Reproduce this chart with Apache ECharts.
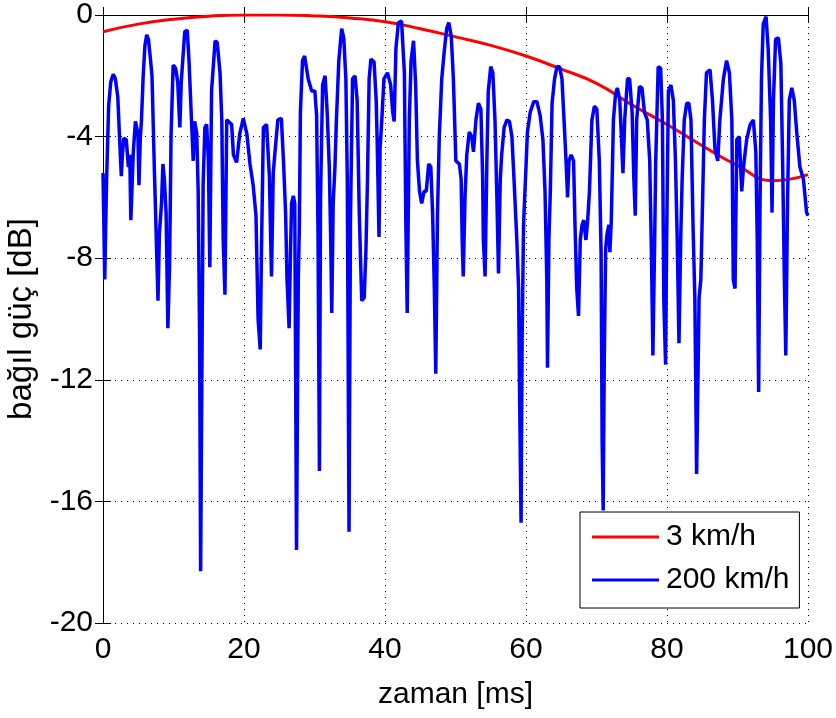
<!DOCTYPE html>
<html>
<head>
<meta charset="utf-8">
<script src="https://cdn.jsdelivr.net/npm/echarts@6/dist/echarts.min.js"></script>
<style>
  html, body { margin: 0; padding: 0; background: #fff; }
  #chart { width: 836px; height: 718px; }
</style>
</head>
<body>
<div id="chart"></div>
<script>
// red: 3 km/h (slow fading)
const redTime = [0, 5, 10, 15, 20, 25, 30, 35, 40, 45, 50, 55, 60, 65, 70, 75, 80, 85, 90, 95, 100];
const redGain = [-0.55, -0.3, -0.14, -0.04, 0, 0, -0.03, -0.1, -0.22, -0.45, -0.72, -1.0, -1.35, -1.78, -2.25, -2.95, -3.6, -4.3, -4.95, -5.45, -5.25];

// blue: 200 km/h (fast fading)
const blueTime = [
  0, 0.25, 0.5, 0.8, 1.1, 1.45, 1.75, 2.1, 2.4, 2.6, 2.75, 2.95, 3.3, 3.6, 3.8, 3.95, 4.1, 4.3, 4.6, 4.95,
  5.1, 5.3, 5.45, 5.7, 5.95, 6.2, 6.45, 6.75, 6.95, 7.3, 7.4, 7.6, 7.8, 8.0, 8.3, 8.5, 8.7, 8.95, 9.2, 9.45,
  9.65, 9.95, 10.3, 10.6, 10.9, 11.1, 11.6, 11.95, 12.2, 12.55, 12.8, 13.0, 13.3, 13.5, 13.7, 13.85, 14.05, 14.2, 14.45, 14.7,
  14.95, 15.15, 15.4, 15.9, 16.2, 16.6, 16.85, 17.05, 17.3, 17.55, 17.8, 18.25, 18.5, 18.95, 19.4, 19.9, 20.4, 20.85, 21.3, 21.7,
  22.0, 22.3, 22.5, 22.75, 23.2, 23.6, 23.9, 24.15, 24.4, 24.8, 25.3, 25.6, 25.9, 26.1, 26.4, 26.6, 26.75, 27.0, 27.2, 27.45,
  27.7, 27.85, 28.0, 28.3, 28.6, 29.1, 29.6, 30.05, 30.3, 30.5, 30.7, 30.85, 31.15, 31.5, 31.8, 32.1, 32.3, 32.45, 32.65, 32.9,
  33.1, 33.45, 33.85, 34.15, 34.45, 34.65, 34.9, 35.1, 35.4, 35.75, 36.05, 36.35, 36.7, 37.05, 37.3, 37.5, 37.75, 38.0, 38.45, 38.75,
  38.9, 39.15, 39.3, 39.55, 39.85, 40.35, 40.8, 41.1, 41.3, 41.55, 41.9, 42.35, 42.75, 42.95, 43.15, 43.45, 43.7, 44.05, 44.35, 44.6,
  44.9, 45.2, 45.55, 45.85, 46.2, 46.5, 46.75, 47.0, 47.2, 47.45, 47.7, 48.05, 48.4, 48.75, 49.05, 49.4, 49.7, 50.05, 50.55, 50.8,
  50.95, 51.1, 51.35, 51.6, 51.95, 52.3, 52.55, 52.9, 53.25, 53.6, 53.85, 53.95, 54.2, 54.45, 54.65, 55.0, 55.3, 55.6, 55.85, 56.1,
  56.35, 56.55, 56.9, 57.3, 57.65, 58.0, 58.3, 58.7, 58.95, 59.1, 59.3, 59.45, 59.65, 60.0, 60.2, 60.6, 61.1, 61.55, 62.0, 62.4,
  62.7, 62.95, 63.05, 63.25, 63.45, 63.7, 64.05, 64.4, 64.75, 65.1, 65.45, 65.7, 65.9, 66.1, 66.4, 66.75, 66.95, 67.2, 67.45, 67.7,
  67.95, 68.2, 68.5, 68.75, 69.0, 69.35, 69.7, 70.05, 70.4, 70.65, 70.8, 70.95, 71.1, 71.3, 71.5, 71.75, 71.9, 72.1, 72.4, 72.7,
  72.95, 73.3, 73.5, 73.75, 74.0, 74.4, 74.7, 75.05, 75.3, 75.5, 75.7, 76.1, 76.45, 76.8, 77.2, 77.55, 77.8, 78.0, 78.25, 78.4,
  78.75, 79.1, 79.35, 79.55, 79.8, 79.95, 80.2, 80.55, 80.9, 81.2, 81.45, 81.7, 81.95, 82.15, 82.45, 82.8, 83.1, 83.4, 83.7, 83.95,
  84.2, 84.35, 84.55, 84.8, 85.05, 85.3, 85.6, 86.1, 86.45, 86.8, 87.2, 87.5, 88.0, 88.45, 88.85, 89.2, 89.4, 89.65, 89.9, 90.25,
  90.6, 90.85, 91.3, 91.8, 92.25, 92.6, 92.8, 93.0, 93.2, 93.4, 93.65, 94.05, 94.35, 94.7, 94.9, 95.1, 95.4, 95.8, 96.15, 96.4,
  96.65, 96.85, 97.1, 97.35, 97.7, 98.05, 98.4, 98.85, 99.35, 99.8, 100
];
const blueGain = [
  -5.2, -8.7, -5.5, -3.0, -2.2, -1.95, -2.1, -2.7, -4.3, -5.3, -4.6, -4.05, -4.1, -5.0, -4.6, -6.75, -6.8, -4.5, -3.5, -3.9,
  -5.6, -4.0, -3.5, -2.0, -1.0, -0.65, -0.8, -1.5, -2.0, -5.2, -6.0, -7.7, -9.4, -7.2, -6.2, -4.9, -5.4, -6.5, -10.3, -8.2,
  -4.0, -1.65, -1.75, -2.2, -3.7, -2.2, -0.55, -0.5, -1.5, -3.45, -4.8, -3.5, -3.9, -5.8, -10.5, -18.3, -11.0, -5.6, -3.7, -3.6,
  -4.8, -8.3, -2.5, -0.85, -0.9, -1.9, -3.45, -7.4, -9.2, -3.45, -3.4, -3.6, -4.6, -4.85, -3.9, -3.4, -3.9, -4.9, -5.6, -6.6,
  -10.0, -11.0, -7.4, -3.7, -3.6, -5.3, -8.6, -5.2, -4.5, -3.45, -3.4, -4.8, -6.5, -8.7, -10.3, -7.7, -6.2, -5.95, -6.2, -17.6,
  -8.7, -7.0, -3.2, -1.5, -1.35, -2.1, -2.5, -2.5, -3.3, -7.2, -15.0, -6.1, -2.3, -2.0, -3.2, -5.0, -7.4, -9.8, -6.2, -5.0,
  -3.5, -1.5, -0.45, -0.75, -2.1, -5.4, -17.0, -6.75, -2.1, -2.0, -2.8, -6.5, -9.4, -9.3, -7.7, -5.6, -2.1, -1.45, -1.55, -2.8,
  -4.25, -7.3, -4.4, -3.45, -2.1, -1.9, -2.3, -3.2, -3.5, -1.1, -0.25, -0.2, -1.9, -6.75, -9.8, -3.45, -1.5, -0.85, -2.3, -4.8,
  -5.8, -6.2, -5.8, -5.8, -4.9, -5.0, -6.5, -9.0, -11.8, -6.5, -4.0, -2.1, -1.2, -0.45, -0.25, -0.7, -2.1, -4.8, -4.9, -5.4,
  -7.4, -8.6, -6.0, -4.6, -3.85, -4.0, -4.5, -3.45, -2.9, -3.1, -5.3, -7.4, -8.6, -4.8, -2.5, -1.7, -1.9, -3.45, -5.8, -8.5,
  -5.4, -4.6, -3.7, -3.45, -3.5, -4.0, -5.4, -7.4, -9.0, -12.7, -16.7, -10.7, -6.9, -5.0, -3.85, -3.2, -2.85, -2.85, -3.3, -4.1,
  -5.8, -8.7, -11.6, -7.4, -5.8, -2.9, -2.1, -1.7, -1.7, -2.1, -3.7, -4.9, -6.0, -4.8, -4.6, -4.8, -6.9, -9.0, -9.9, -7.4,
  -6.9, -6.75, -7.4, -6.75, -5.8, -3.45, -3.0, -3.1, -4.8, -7.8, -14.0, -16.3, -11.4, -7.7, -7.2, -6.9, -7.8, -6.75, -3.45, -2.6,
  -2.4, -2.8, -3.85, -5.2, -3.45, -2.1, -2.1, -3.2, -5.4, -6.6, -3.45, -2.35, -2.4, -3.2, -3.45, -4.8, -7.95, -11.2, -7.4, -4.8,
  -1.7, -1.75, -3.45, -9.4, -11.5, -7.4, -2.5, -2.3, -2.8, -4.8, -7.4, -10.8, -7.3, -5.4, -3.45, -2.9, -2.9, -3.45, -7.0, -9.3,
  -15.1, -12.7, -9.3, -8.7, -6.1, -3.45, -1.9, -1.8, -2.8, -4.4, -4.8, -3.45, -2.1, -1.5, -1.9, -3.45, -8.7, -9.0, -4.1, -4.0,
  -5.8, -5.0, -4.1, -3.6, -3.45, -4.5, -7.4, -12.4, -6.1, -2.1, -0.3, -0.05, -1.1, -3.45, -6.5, -2.8, -0.8, -0.75, -1.6, -4.8,
  -8.7, -11.2, -6.1, -2.8, -2.4, -2.8, -3.85, -5.0, -5.4, -6.5, -6.6
];

const seriesNames = ["3 km/h", "200 km/h"];
const font = "'Liberation Sans', Arial, Helvetica, sans-serif";

const chart = echarts.init(document.getElementById("chart"));

const gridLine = { show: true, lineStyle: { color: "#000", width: 1, type: [1, 5] } };
const frameLine = { show: true, lineStyle: { color: "#000", width: 1 } };
const innerTick = { show: true, inside: true, length: 8, lineStyle: { color: "#000" } };

chart.setOption({
  animation: false,
  backgroundColor: "#fff",
  textStyle: { fontFamily: font },
  grid: { left: 103, right: 28, top: 15, bottom: 95, containLabel: false, outerBoundsMode: "none" },
  legend: {
    orient: "vertical",
    left: 580,
    top: 512,
    data: seriesNames,
    icon: "rect",
    backgroundColor: "#fff",
    borderColor: "#000",
    borderWidth: 1,
    borderRadius: 0,
    padding: [10, 10, 13, 12],
    itemWidth: 67,
    itemHeight: 3,
    itemGap: 13,
    textStyle: { fontSize: 30, color: "#000", fontFamily: font, padding: [0, 0, 0, 2] },
  },
  xAxis: [
    {
      type: "value",
      min: 0,
      max: 100,
      interval: 20,
      position: "bottom",
      name: "zaman [ms]",
      nameLocation: "middle",
      nameGap: 57,
      nameTextStyle: { fontSize: 30, color: "#000", fontFamily: font },
      axisLine: frameLine,
      axisTick: innerTick,
      axisLabel: { fontSize: 30, color: "#000", margin: 12, fontFamily: font },
      splitLine: gridLine,
    },
    {
      type: "value",
      min: 0,
      max: 100,
      interval: 20,
      position: "top",
      axisLine: frameLine,
      axisTick: innerTick,
      axisLabel: { show: false },
      splitLine: { show: false },
    },
  ],
  yAxis: [
    {
      type: "value",
      min: -20,
      max: 0,
      interval: 4,
      position: "left",
      name: "bağıl güç [dB]",
      nameLocation: "middle",
      nameGap: 58,
      nameTextStyle: { fontSize: 33, color: "#000", fontFamily: font },
      axisLine: frameLine,
      axisTick: innerTick,
      axisLabel: { fontSize: 30, color: "#000", margin: 10, fontFamily: font },
      splitLine: gridLine,
    },
    {
      type: "value",
      min: -20,
      max: 0,
      interval: 4,
      position: "right",
      axisLine: frameLine,
      axisTick: innerTick,
      axisLabel: { show: false },
      splitLine: { show: false },
    },
  ],
  series: [
    {
      name: seriesNames[0],
      type: "line",
      data: redTime.map((t, i) => [t, redGain[i]]),
      smooth: true,
      symbol: "none",
      lineStyle: { color: "#ff0000", width: 3 },
      itemStyle: { color: "#ff0000" },
      z: 2,
    },
    {
      name: seriesNames[1],
      type: "line",
      data: blueTime.map((t, i) => [t, blueGain[i]]),
      symbol: "none",
      lineStyle: { color: "#0000ff", width: 3.5 },
      itemStyle: { color: "#0000ff" },
      z: 3,
    },
  ],
});
</script>
</body>
</html>
